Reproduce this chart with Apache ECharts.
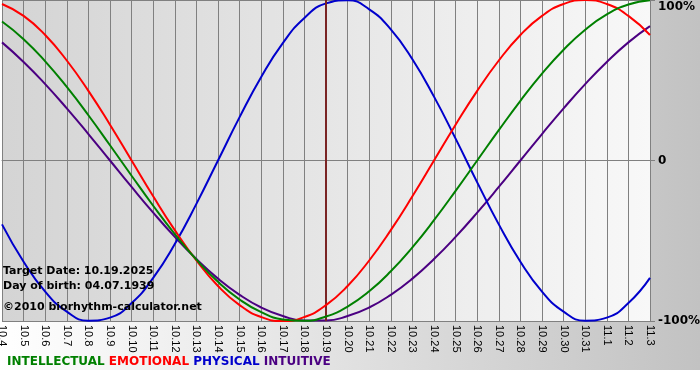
<!DOCTYPE html>
<html>
<head>
<meta charset="utf-8">
<script src="https://cdn.jsdelivr.net/npm/echarts@6/dist/echarts.min.js"></script>
<style>html,body{margin:0;padding:0;background:#fff}#c{width:700px;height:380px}</style>
</head>
<body>
<div id="c"></div>
<script>
var categories = ['10.4','10.5','10.6','10.7','10.8','10.9','10.10','10.11','10.12','10.13','10.14','10.15','10.16','10.17','10.18','10.19','10.20','10.21','10.22','10.23','10.24','10.25','10.26','10.27','10.28','10.29','10.30','10.31','11.1','11.2','11.3'];
var intellectual = [0.866,0.756,0.618,0.458,0.282,0.095,-0.095,-0.282,-0.458,-0.618,-0.756,-0.866,-0.945,-0.990,-0.999,-0.972,-0.910,-0.815,-0.690,-0.541,-0.372,-0.189,0,0.189,0.372,0.541,0.690,0.815,0.910,0.972,0.999];
var emotional = [0.975,0.901,0.782,0.623,0.434,0.223,0,-0.223,-0.434,-0.623,-0.782,-0.901,-0.975,-1,-0.975,-0.901,-0.782,-0.623,-0.434,-0.223,0,0.223,0.434,0.623,0.782,0.901,0.975,1,0.975,0.901,0.782];
var physical = [-0.398,-0.631,-0.817,-0.942,-0.998,-0.979,-0.888,-0.731,-0.520,-0.270,0,0.270,0.520,0.731,0.888,0.979,0.998,0.942,0.817,0.631,0.398,0.136,-0.136,-0.398,-0.631,-0.817,-0.942,-0.998,-0.979,-0.888,-0.731];
var intuitive = [0.736,0.614,0.476,0.325,0.165,0,-0.165,-0.325,-0.476,-0.614,-0.736,-0.837,-0.916,-0.969,-0.997,-0.997,-0.969,-0.916,-0.837,-0.736,-0.614,-0.476,-0.325,-0.165,0,0.165,0.325,0.476,0.614,0.736,0.837];
var yTickLabels = {'-1':'-100%','0':'0','1':'100%'};
var targetCategory = '10.19';
var infoLines = ['Target Date: 10.19.2025','Day of birth: 04.07.1939','\u00a92010 biorhythm-calculator.net'];
var seriesNames = ['INTELLECTUAL','EMOTIONAL','PHYSICAL','INTUITIVE'];
var seriesColors = ['#008000','#ff0000','#0000cc','#4b0082'];

var chart = echarts.init(document.getElementById('c'), null, {renderer:'canvas'});
var G = echarts.graphic;
var dataSets = [intellectual, emotional, physical, intuitive];
var series = dataSets.map(function(d, i){
  return {
    name: seriesNames[i], type:'line', data:d, smooth:true, showSymbol:false, symbol:'none',
    lineStyle:{color:seriesColors[i], width:2}, itemStyle:{color:seriesColors[i]}, z: 3 + (3-i), animation:false
  };
});
series.push({
  type:'line', data:[], markLine:{silent:true, symbol:'none', label:{show:false},
    lineStyle:{color:'#7a2424', width:2, type:'solid'}, data:[{xAxis:targetCategory}]}, z:2
});
var rich = {};
var legendText = seriesNames.map(function(n,i){ rich['s'+i] = {fill:seriesColors[i], font:'bold 12px "DejaVu Sans"'}; return '{s'+i+'|'+n+'}'; }).join(' ');

chart.setOption({
  animation:false,
  backgroundColor: new G.LinearGradient(0,0,1,0,[{offset:0,color:'#ffffff'},{offset:1,color:'#c2c2c2'}]),
  grid:{left:2, top:0, width:648, height:321, show:true, borderWidth:0, containLabel:false, outerBoundsMode:'none',
    backgroundColor: new G.LinearGradient(0,0,1,0,[{offset:0,color:'#d4d4d4'},{offset:1,color:'#f8f8f8'}])},
  xAxis:{type:'category', data:categories, boundaryGap:false,
    axisLine:{lineStyle:{color:'#808080'}}, axisTick:{show:true, interval:0, length:4, lineStyle:{color:'#808080'}},
    axisLabel:{interval:0, rotate:-90, color:'#000', fontFamily:'Liberation Sans', fontSize:11, margin:4},
    splitLine:{show:true, interval:0, lineStyle:{color:'#808080', width:1}}},
  yAxis:{type:'value', position:'right', min:-1, max:1, interval:1,
    axisLine:{show:false}, axisTick:{show:true, length:5, lineStyle:{color:'#808080'}},
    axisLabel:{color:'#000', fontFamily:'DejaVu Sans', fontWeight:'bold', fontSize:12, margin:8,
      formatter:function(v){ return v === 1 ? '{t|' + yTickLabels[String(v)] + '}' : yTickLabels[String(v)]; },
      rich:{t:{fontFamily:'DejaVu Sans', fontWeight:'bold', fontSize:12, color:'#000', padding:[14,0,0,0]}}},
    splitLine:{show:true, lineStyle:{color:'#808080', width:1}}},
  series: series,
  graphic:[
    {type:'rect', shape:{x:0,y:370,width:700,height:10}, style:{fill:'#ffffff'}, z:-1, silent:true},
    {type:'text', left:3, top:266, style:{text:infoLines[0], font:'bold 11px "DejaVu Sans"', fill:'#000'}, z:10},
    {type:'text', left:3, top:281, style:{text:infoLines[1], font:'bold 11px "DejaVu Sans"', fill:'#000'}, z:10},
    {type:'text', left:3, top:302, style:{text:infoLines[2], font:'bold 11px "DejaVu Sans"', fill:'#000'}, z:10},
    {type:'text', left:7, top:356, style:{text:legendText, rich:rich, font:'bold 12px "DejaVu Sans"'}, z:10}
  ]
});
</script>
</body>
</html>
